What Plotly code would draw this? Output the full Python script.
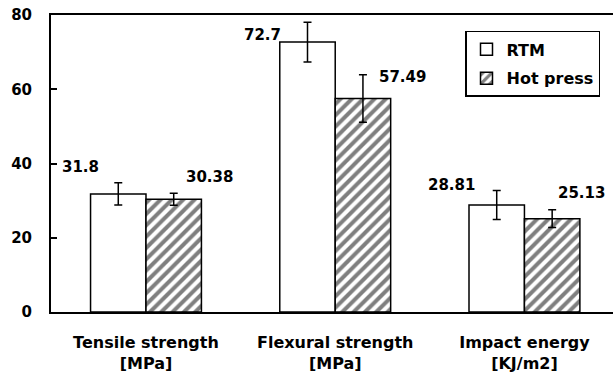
import plotly.graph_objects as go

# Mechanical properties of the composite, RTM vs hot press
categories = ["Tensile strength<br>[MPa]", "Flexural strength<br>[MPa]", "Impact energy<br>[KJ/m2]"]
rtm_values = [31.8, 72.7, 28.81]
hot_values = [30.38, 57.49, 25.13]
rtm_errors = [3.0, 5.35, 3.9]
hot_errors = [1.6, 6.4, 2.4]
y_ticks = [0, 20, 40, 60, 80]

FONT = "DejaVu Sans"

fig = go.Figure()
fig.add_trace(go.Bar(
    name="RTM", x=categories, y=rtm_values,
    marker=dict(color="white", line=dict(color="black", width=1.5)),
    error_y=dict(type="data", array=rtm_errors, color="black", thickness=1.5, width=4),
    legendgroup="a",
))
fig.add_trace(go.Bar(
    name="Hot press", x=categories, y=hot_values,
    marker=dict(color="white", line=dict(color="black", width=1.5),
                pattern=dict(shape="/", fgcolor="black", bgcolor="white", size=8, solidity=0.5)),
    error_y=dict(type="data", array=hot_errors, color="black", thickness=1.5, width=4),
    legendgroup="b",
))

# value labels beside each bar (pixel offsets from category centre)
rtm_shift = [(-65, 27), (-73, 7), (-73, 20)]
hot_shift = [(64, 22), (67, 22), (57, 26)]
for i, (v, (dx, dy)) in enumerate(zip(rtm_values, rtm_shift)):
    fig.add_annotation(x=i, y=v, xref="x", yref="y", text=f"{v}", showarrow=False,
                       xshift=dx, yshift=dy, font=dict(family=FONT, size=15, color="black", weight="bold"))
for i, (v, (dx, dy)) in enumerate(zip(hot_values, hot_shift)):
    fig.add_annotation(x=i, y=v, xref="x", yref="y", text=f"{v}", showarrow=False,
                       xshift=dx, yshift=dy, font=dict(family=FONT, size=15, color="black", weight="bold"))

fig.update_layout(
    width=613, height=381,
    margin=dict(l=51, r=0, t=15, b=68.5),
    paper_bgcolor="white", plot_bgcolor="white",
    barmode="group", bargap=0.414, bargroupgap=0,
    font=dict(family=FONT, color="black", size=15, weight="bold"),
    showlegend=True,
    legend=dict(
        x=(600 - 51) / (613 - 51), y=(312.5 - 31) / (312.5 - 15),
        yanchor="top", xanchor="right",
        bordercolor="black", borderwidth=1.5, bgcolor="white",
        font=dict(family=FONT, size=16, color="black", weight="bold"),
        tracegroupgap=5, itemwidth=30,
    ),
)

fig.update_xaxes(
    range=[-0.502, 2.468],
    showline=True, linecolor="black", linewidth=2, mirror=True,
    ticks="", showgrid=False, zeroline=False,
    tickfont=dict(family=FONT, size=16, color="black", weight="bold"),
    ticklabelstandoff=15,
)
fig.update_yaxes(
    range=[0, 80], tickvals=y_ticks,
    showline=True, linecolor="black", linewidth=2, mirror=False,
    ticks="inside", ticklen=6, tickwidth=1.5, tickcolor="black",
    showgrid=False, zeroline=False,
    tickfont=dict(family=FONT, size=15, color="black", weight="bold"),
    ticklabelstandoff=14,
)

fig.write_html("out.html")
